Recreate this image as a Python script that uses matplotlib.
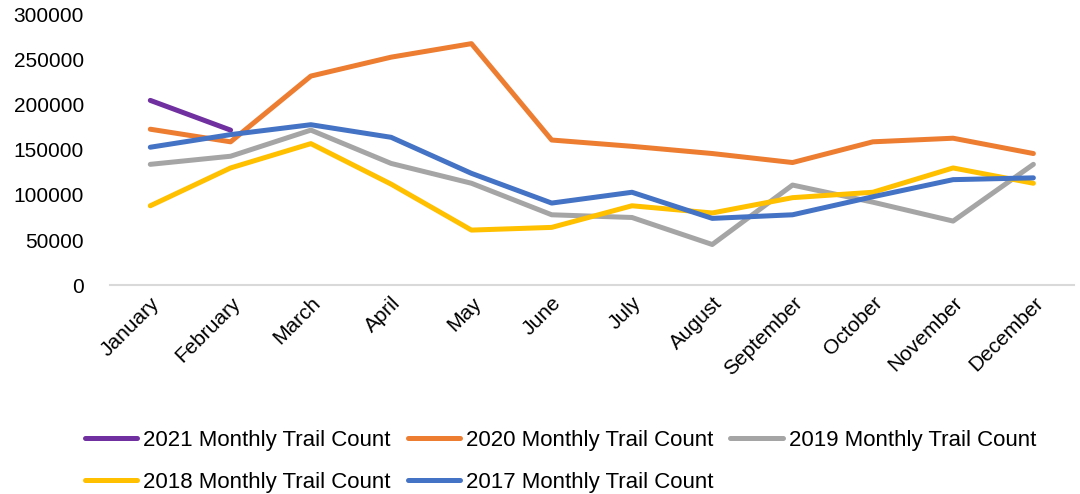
import matplotlib.pyplot as plt
import numpy as np

plt.rcParams['font.family'] = ['Liberation Sans', 'DejaVu Sans']

months = ['January', 'February', 'March', 'April', 'May', 'June', 'July',
          'August', 'September', 'October', 'November', 'December']

count2021 = [205000, 172000]
count2020 = [173000, 159000, 232000, 253000, 268000, 161000, 154000, 146000, 136000, 159000, 163000, 146000]
count2019 = [134000, 143000, 172000, 135000, 113000, 78000, 75000, 45000, 111000, 92000, 71000, 134000]
count2018 = [88000, 130000, 157000, 112000, 61000, 64000, 88000, 80000, 97000, 103000, 130000, 113000]
count2017 = [153000, 167000, 178000, 164000, 124000, 91000, 103000, 74000, 78000, 98000, 117000, 119000]

series = [(count2021, '2021 Monthly Trail Count', '#7030A0'),
          (count2020, '2020 Monthly Trail Count', '#ED7D31'),
          (count2019, '2019 Monthly Trail Count', '#A5A5A5'),
          (count2018, '2018 Monthly Trail Count', '#FFC000'),
          (count2017, '2017 Monthly Trail Count', '#4472C4')]

fig = plt.figure(figsize=(10.8, 4.94), dpi=100)
ax = fig.add_axes([0.102, 0.423, 0.892, 0.547])

x = np.arange(len(months))
for vals, name, col in series:
    ax.plot(x[:len(vals)], vals, color=col, linewidth=3.6, label=name, solid_capstyle='round')

ax.set_xlim(-0.5, 11.5)
ax.set_ylim(0, 300000)
ax.set_yticks(np.arange(0, 300001, 50000))
ax.set_xticks(x)
ax.set_xticklabels(months, rotation=45, ha='right', rotation_mode='anchor')
ax.tick_params(axis='both', length=0, labelsize=15, colors='black')
ax.tick_params(axis='x', pad=6)
ax.tick_params(axis='y', pad=19)
for s in ['top', 'right', 'left']:
    ax.spines[s].set_visible(False)
ax.spines['bottom'].set_color('#D9D9D9')
ax.spines['bottom'].set_linewidth(1.5)

# title mostly cut off above the canvas
fig.text(0.395, 1.035, 'Monthly', fontsize=24, fontweight='bold', ha='right', va='baseline')

# row-wise legend order
h, l = ax.get_legend_handles_labels()
order = [0, 3, 1, 4, 2]
fig.legend([h[i] for i in order], [l[i] for i in order],
           loc='upper left', bbox_to_anchor=(0.06, 0.17), ncol=3, frameon=False,
           fontsize=16, handlelength=2.35, handletextpad=0.27, columnspacing=0.77,
           labelspacing=0.95)

fig.savefig('out.png', dpi=100)
